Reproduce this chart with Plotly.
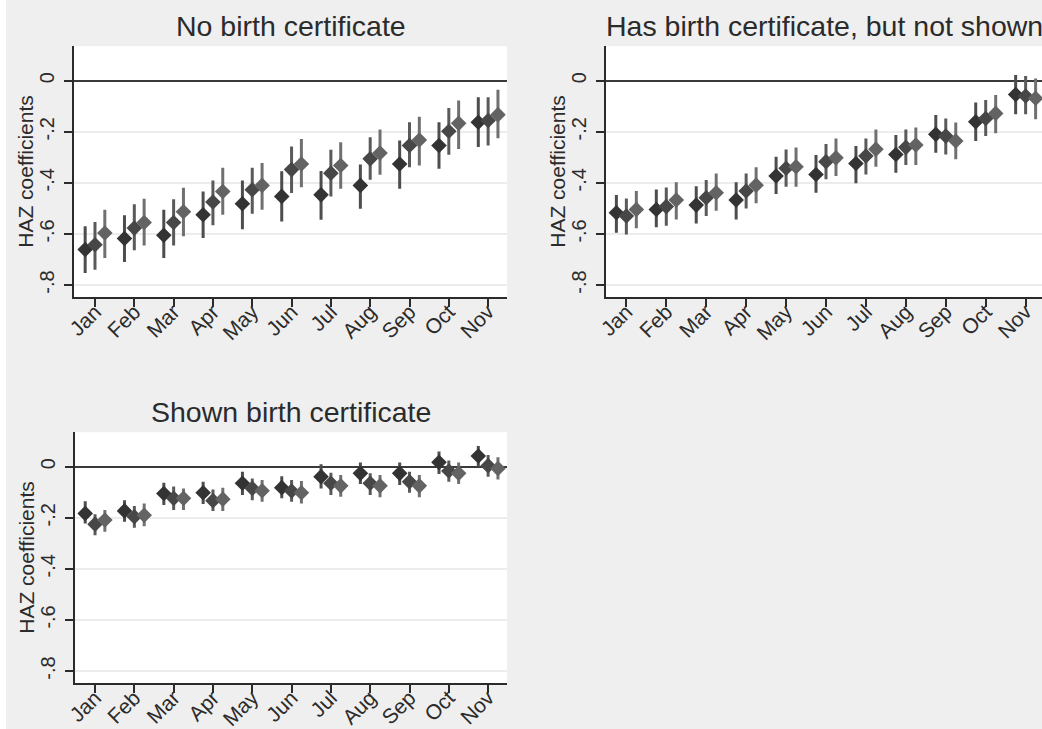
import plotly.graph_objects as go

# Birth month categories
months = ["Jan", "Feb", "Mar", "Apr", "May", "Jun", "Jul", "Aug", "Sep", "Oct", "Nov"]
month_pos = list(range(1, 12))

# Y-axis ticks
y_ticks = [0, -0.2, -0.4, -0.6, -0.8]
y_tick_text = ["0", "-.2", "-.4", "-.6", "-.8"]

panel_titles = ["No birth certificate", "Has birth certificate, but not shown", "Shown birth certificate"]
y_title = "HAZ coefficients"

# --- No birth certificate: coefficients with 95% CI bounds (three specifications)
nocert_m1 = [-0.661, -0.618, -0.605, -0.525, -0.482, -0.453, -0.447, -0.410, -0.326, -0.254, -0.163]
nocert_m1_lo = [-0.753, -0.710, -0.694, -0.616, -0.582, -0.551, -0.544, -0.501, -0.423, -0.345, -0.260]
nocert_m1_hi = [-0.570, -0.527, -0.505, -0.434, -0.391, -0.355, -0.354, -0.328, -0.234, -0.163, -0.065]
nocert_m2 = [-0.642, -0.577, -0.555, -0.475, -0.427, -0.348, -0.362, -0.306, -0.254, -0.198, -0.156]
nocert_m2_lo = [-0.740, -0.664, -0.645, -0.566, -0.521, -0.440, -0.453, -0.388, -0.339, -0.290, -0.254]
nocert_m2_hi = [-0.553, -0.484, -0.464, -0.391, -0.341, -0.258, -0.270, -0.221, -0.163, -0.107, -0.065]
nocert_m3 = [-0.596, -0.555, -0.513, -0.434, -0.410, -0.326, -0.332, -0.283, -0.232, -0.167, -0.133]
nocert_m3_lo = [-0.694, -0.645, -0.609, -0.525, -0.505, -0.417, -0.423, -0.368, -0.332, -0.267, -0.225]
nocert_m3_hi = [-0.505, -0.462, -0.419, -0.341, -0.322, -0.228, -0.241, -0.191, -0.141, -0.078, -0.035]

# --- Has birth certificate, but not shown
notshown_m1 = [-0.517, -0.504, -0.487, -0.467, -0.373, -0.367, -0.324, -0.289, -0.210, -0.161, -0.054]
notshown_m1_lo = [-0.595, -0.574, -0.559, -0.543, -0.444, -0.439, -0.402, -0.360, -0.282, -0.236, -0.131]
notshown_m1_hi = [-0.448, -0.426, -0.413, -0.398, -0.298, -0.291, -0.256, -0.213, -0.134, -0.085, 0.022]
notshown_m2 = [-0.530, -0.493, -0.458, -0.432, -0.343, -0.317, -0.295, -0.261, -0.217, -0.148, -0.060]
notshown_m2_lo = [-0.602, -0.568, -0.530, -0.500, -0.415, -0.386, -0.367, -0.330, -0.289, -0.217, -0.131]
notshown_m2_hi = [-0.461, -0.418, -0.389, -0.363, -0.269, -0.248, -0.226, -0.191, -0.148, -0.076, 0.018]
notshown_m3 = [-0.504, -0.467, -0.439, -0.409, -0.337, -0.302, -0.268, -0.252, -0.236, -0.128, -0.069]
notshown_m3_lo = [-0.578, -0.543, -0.509, -0.480, -0.415, -0.373, -0.337, -0.330, -0.308, -0.206, -0.151]
notshown_m3_hi = [-0.432, -0.398, -0.363, -0.339, -0.262, -0.226, -0.191, -0.183, -0.164, -0.056, 0.009]

# --- Shown birth certificate
shown_m1 = [-0.183, -0.173, -0.105, -0.102, -0.065, -0.082, -0.039, -0.026, -0.026, 0.017, 0.042]
shown_m1_lo = [-0.222, -0.216, -0.150, -0.146, -0.111, -0.124, -0.085, -0.068, -0.072, -0.029, 0.000]
shown_m1_hi = [-0.135, -0.131, -0.063, -0.059, -0.020, -0.037, 0.010, 0.016, 0.016, 0.059, 0.081]
shown_m2 = [-0.225, -0.196, -0.124, -0.133, -0.085, -0.095, -0.065, -0.065, -0.059, -0.017, 0.004]
shown_m2_lo = [-0.268, -0.239, -0.170, -0.173, -0.131, -0.137, -0.111, -0.111, -0.102, -0.059, -0.039]
shown_m2_hi = [-0.186, -0.154, -0.078, -0.089, -0.046, -0.052, -0.024, -0.026, -0.020, 0.024, 0.046]
shown_m3 = [-0.209, -0.190, -0.124, -0.127, -0.094, -0.102, -0.075, -0.075, -0.075, -0.026, -0.007]
shown_m3_lo = [-0.255, -0.233, -0.170, -0.173, -0.137, -0.144, -0.118, -0.120, -0.120, -0.068, -0.050]
shown_m3_hi = [-0.170, -0.144, -0.085, -0.082, -0.052, -0.056, -0.033, -0.033, -0.033, 0.016, 0.037]

W, H = 1042, 729
FONT = "Arial, 'Liberation Sans', sans-serif"
TXT = "#2b2b2b"

# Horizontal offset of each specification within a month, plus its shade
spec_offsets = [-0.25, 0.0, 0.25]
marker_colors = ["#333333", "#474747", "#636363"]
bar_colors = ["#4d4d4d", "#5a5a5a", "#707070"]

panels = [
    dict(
        series=[(nocert_m1, nocert_m1_lo, nocert_m1_hi),
                (nocert_m2, nocert_m2_lo, nocert_m2_hi),
                (nocert_m3, nocert_m3_lo, nocert_m3_hi)],
        px_x=(74, 507), px_y=(46.2, 297.3), xrange=[0.466, 11.48],
    ),
    dict(
        series=[(notshown_m1, notshown_m1_lo, notshown_m1_hi),
                (notshown_m2, notshown_m2_lo, notshown_m2_hi),
                (notshown_m3, notshown_m3_lo, notshown_m3_hi)],
        px_x=(606, 1042), px_y=(46.2, 297.3), xrange=[0.49, 11.41],
    ),
    dict(
        series=[(shown_m1, shown_m1_lo, shown_m1_hi),
                (shown_m2, shown_m2_lo, shown_m2_hi),
                (shown_m3, shown_m3_lo, shown_m3_hi)],
        px_x=(75, 507), px_y=(432.2, 683.3), xrange=[0.49, 11.48],
    ),
]
y_range = [-0.848, 0.135]

fig = go.Figure()
layout = dict(
    width=W, height=H,
    margin=dict(l=0, r=0, t=0, b=0, autoexpand=False),
    paper_bgcolor="#efefef",
    plot_bgcolor="#ffffff",
    showlegend=False,
    font=dict(family=FONT, color=TXT),
)
annotations = []

for i, p in enumerate(panels):
    ax = "" if i == 0 else str(i + 1)
    x0, x1 = p["px_x"]
    top, bot = p["px_y"]
    for k, (coef, lo, hi) in enumerate(p["series"]):
        xs = [m + spec_offsets[k] for m in month_pos]
        fig.add_trace(go.Scatter(
            x=xs, y=coef, mode="markers",
            xaxis="x" + ax, yaxis="y" + ax,
            marker=dict(symbol="diamond", size=12, color=marker_colors[k]),
            error_y=dict(
                type="data", symmetric=False,
                array=[h - c for h, c in zip(hi, coef)],
                arrayminus=[c - l for c, l in zip(coef, lo)],
                thickness=3, width=0, color=bar_colors[k],
            ),
            hoverinfo="skip",
        ))
    layout["xaxis" + ax] = dict(
        domain=[x0 / W, min(x1 / W, 1.0)],
        range=p["xrange"], anchor="y" + ax, automargin=False,
        tickvals=month_pos, ticktext=months, tickangle=-45,
        ticks="outside", ticklen=8, tickwidth=2, tickcolor="#2b2b2b",
        showline=True, linecolor="#2b2b2b", linewidth=2,
        showgrid=False, zeroline=False,
        tickfont=dict(size=21, family=FONT, color=TXT),
        ticklabelstandoff=-16,
    )
    layout["yaxis" + ax] = dict(
        domain=[1 - bot / H, 1 - top / H],
        range=y_range, anchor="x" + ax, automargin=False,
        tickvals=y_ticks, ticktext=y_tick_text, tickangle=-90,
        ticks="outside", ticklen=8, tickwidth=2, tickcolor="#2b2b2b",
        showline=True, linecolor="#2b2b2b", linewidth=2,
        showgrid=True, gridcolor="#ececec", gridwidth=2,
        zeroline=True, zerolinecolor="#3a3a3a", zerolinewidth=2,
        tickfont=dict(size=20, family=FONT, color=TXT),
        ticklabelstandoff=2,
    )
    # Panel title centred over the plot area
    annotations.append(dict(
        text=panel_titles[i], xref="paper", yref="paper",
        x=((x0 + x1) / 2) / W, y=1 - (top - 20) / H,
        xanchor="center", yanchor="middle", showarrow=False,
        font=dict(size=28.5, family=FONT, color=TXT),
    ))
    # Y-axis title
    annotations.append(dict(
        text=y_title, xref="paper", yref="paper",
        x=(x0 - 48) / W, y=1 - ((top + bot) / 2) / H,
        xanchor="center", yanchor="middle", textangle=-90, showarrow=False,
        font=dict(size=21, family=FONT, color=TXT),
    ))

layout["annotations"] = annotations
layout["shapes"] = [dict(
    type="rect", xref="paper", yref="paper", x0=0, x1=6 / W, y0=0, y1=1,
    fillcolor="#ffffff", line=dict(width=0), layer="below",
)]
fig.update_layout(**layout)
fig.write_html("out.html")
